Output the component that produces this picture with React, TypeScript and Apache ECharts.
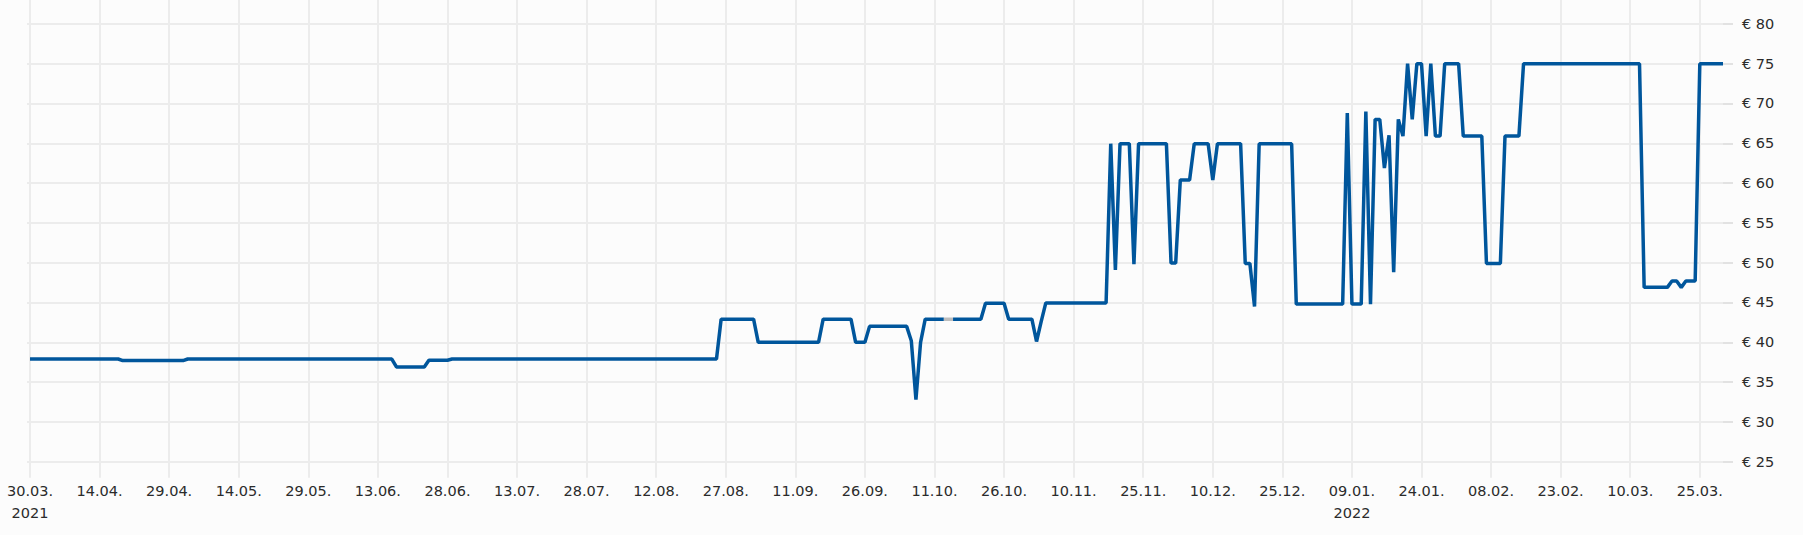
import React, { useEffect, useRef } from "react";
import * as echarts from "echarts";

// Price history (date, € price). null marks the short gap drawn in grey.
const dates: string[] = [
  "2021-03-30", "2021-04-18", "2021-04-19", "2021-05-02", "2021-05-03",
  "2021-06-16", "2021-06-17", "2021-06-23", "2021-06-24", "2021-06-28",
  "2021-06-29", "2021-08-25", "2021-08-26", "2021-09-02", "2021-09-03",
  "2021-09-16", "2021-09-17", "2021-09-23", "2021-09-24", "2021-09-26",
  "2021-09-27", "2021-10-05", "2021-10-06", "2021-10-07", "2021-10-08",
  "2021-10-09", "2021-10-13", "2021-10-14", "2021-10-15", "2021-10-21",
  "2021-10-22", "2021-10-26", "2021-10-27", "2021-11-01", "2021-11-02",
  "2021-11-03", "2021-11-04", "2021-11-17", "2021-11-18", "2021-11-19",
  "2021-11-20", "2021-11-22", "2021-11-23", "2021-11-24", "2021-11-30",
  "2021-12-01", "2021-12-02", "2021-12-03", "2021-12-05", "2021-12-06",
  "2021-12-09", "2021-12-10", "2021-12-11", "2021-12-16", "2021-12-17",
  "2021-12-18", "2021-12-19", "2021-12-20", "2021-12-27", "2021-12-28",
  "2022-01-07", "2022-01-08", "2022-01-09", "2022-01-11", "2022-01-12",
  "2022-01-13", "2022-01-14", "2022-01-15", "2022-01-16", "2022-01-17",
  "2022-01-18", "2022-01-19", "2022-01-20", "2022-01-21", "2022-01-22",
  "2022-01-23", "2022-01-24", "2022-01-25", "2022-01-26", "2022-01-27",
  "2022-01-28", "2022-01-29", "2022-02-01", "2022-02-02", "2022-02-06",
  "2022-02-07", "2022-02-10", "2022-02-11", "2022-02-14", "2022-02-15",
  "2022-03-12", "2022-03-13", "2022-03-18", "2022-03-19", "2022-03-20",
  "2022-03-21", "2022-03-22", "2022-03-24", "2022-03-25", "2022-03-30",
];

const prices: (number | null)[] = [
  37.9, 37.9, 37.7, 37.7, 37.9,
  37.9, 36.9, 36.9, 37.75, 37.75,
  37.9, 37.9, 42.9, 42.9, 40,
  40, 42.9, 42.9, 40, 40,
  42, 42, 40.2, 32.8, 40,
  42.9, 42.9, null, 42.9, 42.9,
  44.9, 44.9, 42.9, 42.9, 40.1,
  42.6, 44.95, 44.95, 64.95, 49.1,
  64.95, 64.95, 49.8, 64.95, 64.95,
  49.95, 49.95, 60.4, 60.4, 64.95,
  64.95, 60.4, 64.95, 64.95, 49.9,
  49.9, 44.5, 64.95, 64.95, 44.8,
  44.8, 68.8, 44.8, 44.8, 69,
  44.8, 68, 68, 61.9, 66,
  48.8, 68, 65.9, 75, 68,
  75, 75, 65.9, 75, 65.9,
  65.9, 75, 75, 65.9, 65.9,
  49.9, 49.9, 65.9, 65.9, 75,
  75, 46.9, 46.9, 47.7, 47.7,
  46.9, 47.7, 47.7, 75, 75,
];

// Grey connector across the data gap
const gapDates: string[] = ["2021-10-13", "2021-10-15"];
const gapPrices: number[] = [42.9, 42.9];

// Axis ticks
const xTickDates: string[] = [
  "2021-03-30", "2021-04-14", "2021-04-29", "2021-05-14", "2021-05-29",
  "2021-06-13", "2021-06-28", "2021-07-13", "2021-07-28", "2021-08-12",
  "2021-08-27", "2021-09-11", "2021-09-26", "2021-10-11", "2021-10-26",
  "2021-11-10", "2021-11-25", "2021-12-10", "2021-12-25", "2022-01-09",
  "2022-01-24", "2022-02-08", "2022-02-23", "2022-03-10", "2022-03-25",
];
const yTicks: number[] = [25, 30, 35, 40, 45, 50, 55, 60, 65, 70, 75, 80];

const parseDate = (s: string): number => {
  const [y, m, d] = s.split("-").map(Number);
  return new Date(y, m - 1, d).getTime();
};
const pad = (n: number) => (n < 10 ? "0" + n : String(n));

export default function App() {
  const ref = useRef<HTMLDivElement>(null);

  useEffect(() => {
    if (!ref.current) return;
    document.body.style.margin = "0";
    document.body.style.background = "#fcfcfc";
    const chart = echarts.init(ref.current, undefined, { renderer: "svg" });

    const xTickValues = xTickDates.map(parseDate);
    const yearFirst = new Set<number>();
    const seenYears = new Set<number>();
    xTickValues.forEach((v) => {
      const y = new Date(v).getFullYear();
      if (!seenYears.has(y)) {
        seenYears.add(y);
        yearFirst.add(v);
      }
    });

    const DAY = 86400000;
    const xMin = parseDate(dates[0]) - 0.65 * DAY;
    const xMax = parseDate(dates[dates.length - 1]);

    const font = '"DejaVu Sans", Verdana, sans-serif';
    const gridColor = "#ececec";

    chart.setOption({
      animation: false,
      backgroundColor: "#fcfcfc",
      grid: { left: 27, right: 80, top: 0, bottom: 73.3, containLabel: false },
      xAxis: {
        type: "value",
        min: xMin,
        max: xMax,
        scale: true,
        axisLine: { show: false },
        axisTick: {
          show: true,
          length: 16,
          customValues: xTickValues,
          lineStyle: { color: gridColor, width: 2 },
        },
        axisLabel: {
          customValues: xTickValues,
          margin: 18,
          lineHeight: 22,
          fontSize: 14.5,
          fontFamily: font,
          color: "#2b2b2b",
          hideOverlap: false,
          formatter: (v: number) => {
            const d = new Date(v);
            const s = `${pad(d.getDate())}.${pad(d.getMonth() + 1)}.`;
            return yearFirst.has(v) ? `${s}\n${d.getFullYear()}` : s;
          },
        },
        splitLine: { show: true, lineStyle: { color: gridColor, width: 2 } },
      },
      yAxis: {
        type: "value",
        position: "right",
        min: 25,
        max: 83,
        axisLine: { show: false },
        axisTick: {
          show: true,
          length: 10,
          customValues: yTicks,
          lineStyle: { color: "#e2e2e2", width: 2 },
        },
        axisLabel: {
          customValues: yTicks,
          margin: 19,
          fontSize: 14.5,
          fontFamily: font,
          color: "#2b2b2b",
          formatter: (v: number) => `€ ${v}`,
        },
        splitLine: { show: true, lineStyle: { color: gridColor, width: 2 } },
      },
      series: [
        {
          type: "line",
          data: gapDates.map((d, i) => [parseDate(d), gapPrices[i]]),
          showSymbol: false,
          symbol: "none",
          silent: true,
          z: 2,
          lineStyle: { color: "#bdbdbd", width: 3.5 },
        },
        {
          type: "line",
          data: dates.map((d, i) => [parseDate(d), prices[i]]),
          showSymbol: false,
          symbol: "none",
          connectNulls: false,
          silent: true,
          z: 3,
          lineStyle: { color: "#00569c", width: 3.5 },
        },
      ],
    });

    return () => chart.dispose();
  }, []);

  return (
    <div
      ref={ref}
      style={{ position: "absolute", left: 0, top: 0, width: 1803, height: 535, background: "#fcfcfc" }}
    />
  );
}
